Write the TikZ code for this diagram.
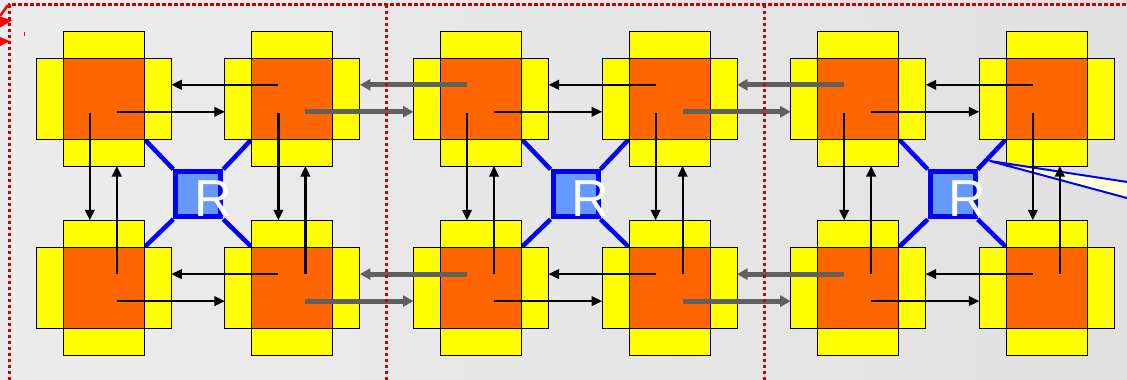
\documentclass[tikz,border=0pt]{standalone}
\usepackage{fontspec}
\newfontfamily\rfont{Liberation Sans}
\usetikzlibrary{arrows.meta,calc}
\definecolor{tyel}{HTML}{FFFF00}
\definecolor{torg}{HTML}{FF6600}
\definecolor{rblue}{HTML}{0000FF}
\definecolor{rfill}{HTML}{6699FF}
\definecolor{agray}{HTML}{606060}
\definecolor{dred}{HTML}{CC0000}
\definecolor{bgl}{RGB}{236,236,236}
\definecolor{bgr}{RGB}{225,225,225}
\definecolor{callfill}{HTML}{FFFFD5}
\pgfdeclarelayer{back}
\pgfdeclarelayer{mid}
\pgfsetlayers{back,mid,main}
\begin{document}
\begin{tikzpicture}[x=1pt,y=-1pt,
  panel/.style={draw=black,line width=0.9pt,fill=tyel,inner sep=0pt,outer sep=0pt},
  hbar/.style={panel,minimum width=135pt,minimum height=81pt},
  vbar/.style={panel,minimum width=81pt,minimum height=135pt},
  core/.style={draw=black,line width=0.9pt,fill=torg,inner sep=0pt,outer sep=0pt,minimum size=81pt},
  rbox/.style={draw=rblue,fill=rfill,line width=5pt,minimum size=45pt,inner sep=0pt,outer sep=2.5pt},
  rtext/.style={text=white,font=\rfont\fontsize{52}{52}\selectfont,inner sep=0pt,anchor=base west},
  link/.style={draw=rblue,line width=4.5pt},
  blk/.style={draw=black,line width=2.2pt,-{Triangle[length=10.5pt,width=9.5pt]}},
  gry/.style={draw=agray,line width=5pt,-{Triangle[length=10.5pt,width=11pt]}},
  sepline/.style={draw=dred,line width=3pt,dash pattern=on 3.5pt off 2.5pt},
]
\useasboundingbox (0,0) rectangle (1127,380);
\clip (0,0) rectangle (1127,380);
\begin{pgfonlayer}{back}
  \shade[left color=bgl,right color=bgr] (0,0) rectangle (1127,380);
\end{pgfonlayer}

% tiles
\foreach \i in {1,...,6}{
  \foreach \j in {1,2}{
    \pgfmathsetmacro\cx{103.8+188.6*(\i-1)}
    \pgfmathsetmacro\cy{98.5+189.3*(\j-1)}
    \node[hbar] (h\i\j) at (\cx,\cy) {};
    \node[vbar] (v\i\j) at (\cx,\cy) {};
    \node[core] (t\i\j) at (\cx,\cy) {};
    \coordinate (nw\i\j) at (\cx-14,\cy-13.7);
    \coordinate (ne\i\j) at (\cx+13,\cy-14.3);
    \coordinate (sw\i\j) at (\cx-14,\cy+14.3);
    \coordinate (se\i\j) at (\cx+13,\cy+13.3);
  }
}

% routers
\foreach \k in {0,1,2}{
  \pgfmathsetmacro\rx{198.3+377.2*\k}
  \pgfmathtruncatemacro\L{2*\k+1}
  \pgfmathtruncatemacro\R{2*\k+2}
  \node[rbox] (r\k) at (\rx,194.3) {};
  \node[rtext] (rt\k) at (\rx-4,216.8) {R};
  \begin{pgfonlayer}{mid}
    \draw[link] (t\L1.south east) -- (r\k.north west);
    \draw[link] (t\R1.south west) -- (r\k.north east);
    \draw[link] (t\L2.north east) -- (r\k.south west);
    \draw[link] (t\R2.north west) -- (r\k.south east);
  \end{pgfonlayer}
}

% callout
\filldraw[fill=callfill,draw=rblue,line width=2pt,line join=round]
  (990,161) -- (1145,184.7) -- (1145,202.9) -- cycle;

% arrows inside clusters
\foreach \k in {0,1,2}{
  \pgfmathtruncatemacro\L{2*\k+1}
  \pgfmathtruncatemacro\R{2*\k+2}
  \draw[blk] (nw\R1) -- (nw\R1 -| h\L1.east);
  \draw[blk] (se\L1) -- (se\L1 -| h\R1.west);
  \draw[blk] (sw\L1) -- (sw\L1 |- v\L2.north);
  \draw[blk] (ne\L2) -- (ne\L2 |- v\L1.south);
  \draw[blk] (nw\R2) -- (nw\R2 -| h\L2.east);
  \draw[blk] (se\L2) -- (se\L2 -| h\R2.west);
  \draw[blk] (sw\R1) -- (sw\R1 |- v\R2.north);
  \draw[blk] (ne\R2) -- (ne\R2 |- v\R1.south);
}

% arrows between clusters
\foreach \k in {1,2}{
  \pgfmathtruncatemacro\L{2*\k+1}
  \pgfmathtruncatemacro\P{2*\k}
  \foreach \j in {1,2}{
    \draw[gry] (nw\L\j) -- (nw\L\j -| h\P\j.east);
    \draw[gry] (se\P\j) -- (se\P\j -| h\L\j.west);
  }
}

% dotted frame and separators
\draw[sepline] (9.3,380) -- (9.3,4.7) -- (1127,4.7);
\draw[sepline] (386,4.7) -- (386,380);
\draw[sepline] (764,4.7) -- (764,380);

% red fragments at the left edge
\draw[red,line width=2.5pt] (8,5) -- (0,16);
\fill[red] (0,16.5) -- (12,20.5) -- (0,27.5) -- cycle;
\fill[red] (0,37) -- (10,41) -- (0,46) -- cycle;
\draw[red,line width=1pt] (24.3,32) -- (24.3,36);
\end{tikzpicture}
\end{document}
